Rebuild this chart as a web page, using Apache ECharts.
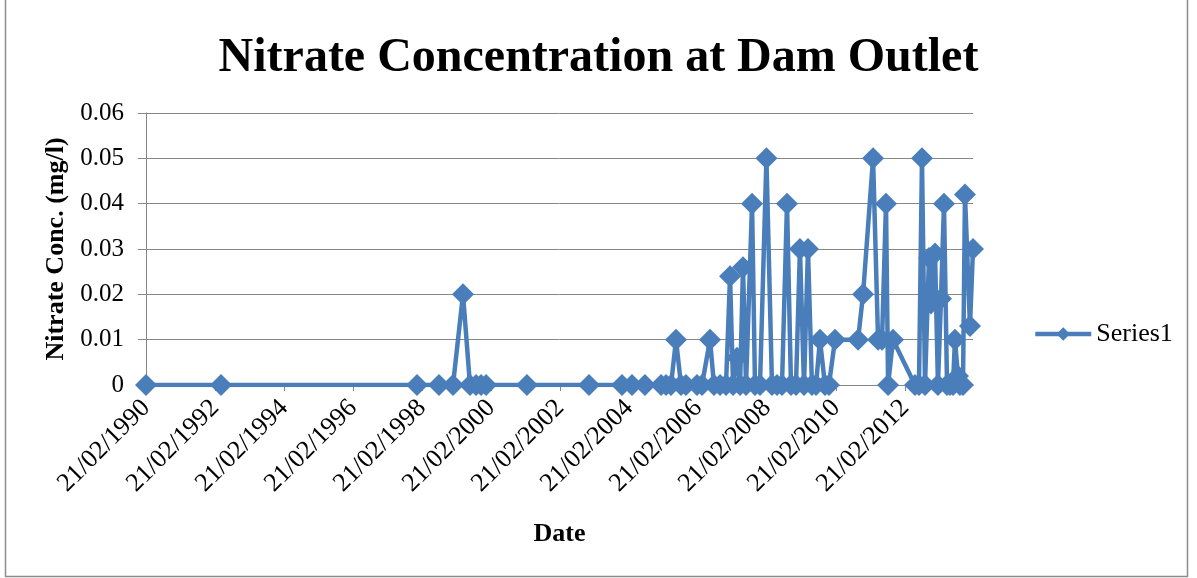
<!DOCTYPE html>
<html>
<head>
<meta charset="utf-8">
<title>Nitrate Concentration at Dam Outlet</title>
<script src="https://cdn.jsdelivr.net/npm/echarts@6/dist/echarts.min.js"></script>
<style>
  html, body { margin: 0; padding: 0; background: #ffffff; }
  #chart { width: 1197px; height: 578px; }
</style>
</head>
<body>
<div id="chart"></div>
<script>
// Sampling dates (YYYY-MM-DD) and nitrate concentrations in mg/l, one entry per sample.
const sampleDates = [
  '1990-02-21', '1992-04-25', '1997-12-30', '1998-08-20', '1999-01-15',
  '1999-05-01', '1999-07-14', '1999-09-16', '1999-11-08', '1999-12-31',
  '2001-03-08', '2002-12-25', '2003-12-09', '2004-03-24', '2004-08-08',
  '2005-01-26', '2005-03-19', '2005-05-11', '2005-07-03', '2005-08-25',
  '2005-10-16', '2006-02-10', '2006-04-04', '2006-06-28', '2006-08-09',
  '2006-10-12', '2006-12-14', '2007-01-26', '2007-02-27', '2007-04-10',
  '2007-05-12', '2007-06-12', '2007-07-14', '2007-09-16', '2007-10-17',
  '2007-12-09', '2008-02-15', '2008-04-14', '2008-06-06', '2008-07-29',
  '2008-09-20', '2008-11-01', '2008-12-24', '2009-02-04', '2009-03-19',
  '2009-04-30', '2009-06-11', '2009-07-24', '2009-09-04', '2009-10-27',
  '2009-12-08', '2010-02-10', '2010-10-12', '2010-12-04', '2011-03-20',
  '2011-05-12', '2011-06-23', '2011-08-04', '2011-08-26', '2011-10-17',
  '2012-06-06', '2012-07-18', '2012-08-19', '2012-09-20', '2012-11-01',
  '2012-11-22', '2013-01-04', '2013-02-04', '2013-03-08', '2013-04-09',
  '2013-05-11', '2013-06-11', '2013-07-13', '2013-08-03', '2013-09-04',
  '2013-09-25', '2013-10-27', '2013-11-17', '2014-01-09', '2014-02-10'
];

const nitrate = [
  0, 0, 0, 0, 0,
  0.02, 0, 0, 0, 0,
  0, 0, 0, 0, 0,
  0, 0, 0, 0.01, 0,
  0, 0, 0, 0.01, 0,
  0, 0, 0.024, 0, 0.006,
  0, 0.026, 0, 0.04, 0,
  0, 0.05, 0, 0, 0,
  0.04, 0, 0, 0.03, 0,
  0.03, 0, 0, 0.01, 0,
  0, 0.01, 0.01, 0.02, 0.05,
  0.01, 0.01, 0.04, 0, 0.01,
  0, 0, 0.05, 0, 0.028,
  0.018, 0.029, 0, 0.019, 0.04,
  0, 0, 0, 0.01, 0.002,
  0, 0, 0.042, 0.013, 0.03
];

// Date axis labels, one every two years starting at the first sample date.
const tickLabels = [
  '21/02/1990', '21/02/1992', '21/02/1994', '21/02/1996', '21/02/1998', '21/02/2000',
  '21/02/2002', '21/02/2004', '21/02/2006', '21/02/2008', '21/02/2010', '21/02/2012'
];

const yTicks = [0, 0.01, 0.02, 0.03, 0.04, 0.05, 0.06];

// The x axis runs in years elapsed since the first sample date.
const BASE = Date.UTC(1990, 1, 21);
const YEAR_MS = 365.25 * 86400000;
function toYears(iso) {
  const p = iso.split('-').map(Number);
  return (Date.UTC(p[0], p[1] - 1, p[2]) - BASE) / YEAR_MS;
}

const points = sampleDates.map((d, i) => [toYears(d), nitrate[i]]);
const xMax = toYears(sampleDates[sampleDates.length - 1]);

const SERIF = '"Liberation Serif", "Times New Roman", serif';
const BLUE = '#4A7EBB';
const GREY = '#868686';

const chart = echarts.init(document.getElementById('chart'), null, { renderer: 'canvas' });

chart.setOption({
  animation: false,
  backgroundColor: '#ffffff',
  title: {
    text: 'Nitrate Concentration at Dam Outlet',
    left: 'center',
    top: 30,
    textStyle: { fontFamily: SERIF, fontSize: 48, fontWeight: 'bold', color: '#000000' }
  },
  legend: {
    data: ['Series1'],
    left: 1028,
    top: 316,
    itemWidth: 56,
    itemHeight: 17,
    itemGap: 6,
    lineStyle: { width: 4.5 },
    textStyle: { fontFamily: SERIF, fontSize: 26, color: '#000000' }
  },
  grid: { left: 146, right: 224, top: 113, bottom: 193 },
  xAxis: {
    type: 'value',
    min: 0,
    max: xMax,
    interval: 2,
    name: 'Date',
    nameLocation: 'middle',
    nameGap: 136,
    nameTextStyle: { fontFamily: SERIF, fontSize: 26, fontWeight: 'bold', color: '#000000' },
    axisLine: { show: true, lineStyle: { color: GREY, width: 1 } },
    axisTick: { show: true, inside: false, length: 6, lineStyle: { color: GREY } },
    splitLine: { show: false },
    axisLabel: {
      rotate: 45,
      margin: 19,
      showMaxLabel: false,
      fontFamily: SERIF,
      fontSize: 26,
      color: '#000000',
      formatter: function (v) {
        const k = Math.round(v / 2);
        if (Math.abs(v - k * 2) > 1e-6) return '';
        return tickLabels[k] || '';
      }
    }
  },
  yAxis: {
    type: 'value',
    min: yTicks[0],
    max: yTicks[yTicks.length - 1],
    interval: 0.01,
    name: 'Nitrate Conc. (mg/l)',
    nameLocation: 'middle',
    nameGap: 74,
    nameTextStyle: { fontFamily: SERIF, fontSize: 26, fontWeight: 'bold', color: '#000000' },
    axisLine: { show: true, lineStyle: { color: GREY, width: 1 } },
    axisTick: { show: true, inside: false, length: 8, lineStyle: { color: GREY } },
    splitLine: { show: true, lineStyle: { color: GREY, width: 1 } },
    axisLabel: {
      margin: 22,
      fontFamily: SERIF,
      fontSize: 25,
      color: '#000000',
      formatter: function (v) { return v === 0 ? '0' : v.toFixed(2); }
    }
  },
  series: [{
    name: 'Series1',
    type: 'line',
    data: points,
    symbol: 'diamond',
    symbolSize: 22,
    showAllSymbol: true,
    lineStyle: { color: BLUE, width: 4.5 },
    itemStyle: { color: BLUE },
    emphasis: { disabled: true }
  }],
  graphic: [{
    type: 'rect',
    shape: { x: 5.5, y: -2, width: 1182, height: 578.5 },
    style: { fill: 'none', stroke: '#8c8c8c', lineWidth: 1.5 },
    silent: true
  }]
});
</script>
</body>
</html>
